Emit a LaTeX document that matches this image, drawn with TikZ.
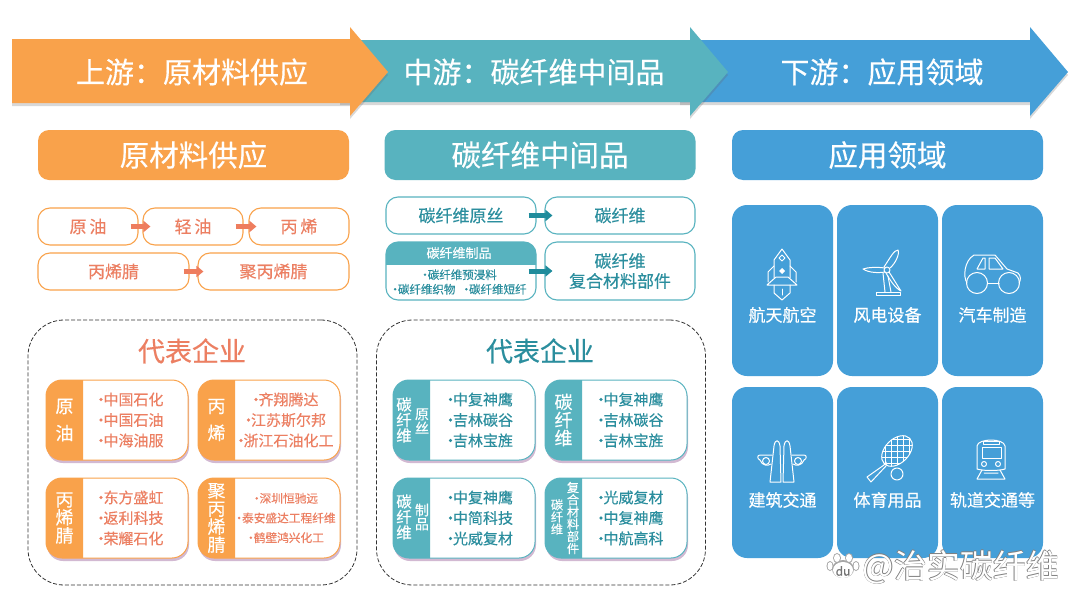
\documentclass[tikz,border=0pt]{standalone}
\usepackage{fontspec}
\setmainfont{Noto Sans CJK SC}[FakeBold=0.35]
\newfontfamily\plainfont{Noto Sans CJK SC}
\usetikzlibrary{arrows.meta,shadows}
\definecolor{orangeband}{HTML}{F9A24B}
\definecolor{tealband}{HTML}{58B3BF}
\definecolor{blueband}{HTML}{459FD8}
\definecolor{orangetext}{HTML}{EC7F62}
\definecolor{tealtext}{HTML}{2B8E9E}
\definecolor{arrowred}{HTML}{EE7D5E}
\definecolor{arrowteal}{HTML}{1F8C9C}
\newcommand{\fsize}[1]{\fontsize{#1}{#1}\selectfont}
\newcommand{\itemdot}{·\kern-5pt}
\newcommand{\wcolon}{\char"FF1A\relax}
\newcommand{\listsize}{15}
\tikzset{
    bandarrow/.style={fill=#1, drop shadow={shadow xshift=0pt, shadow yshift=-3pt, opacity=0.25, fill=black!60}},
    bandtext/.style={text=white, font=\fsize{29}, inner sep=0pt},
    titlebox/.style={fill=#1, rounded corners=11pt, minimum width=311pt, minimum height=50pt, inner sep=0pt, text=white, font=\fsize{29.5}},
    stepbox/.style={draw=#1, line width=1.1pt, fill=white, rounded corners=12pt, minimum height=37pt, inner sep=0pt},
    flowarrow/.style={draw=#1, line width=5pt, -{Triangle[width=11pt,length=7pt]}},
    groupbox/.style={draw=black!80, dash pattern=on 4pt off 2pt, line width=0.8pt, rounded corners=36pt, minimum width=329pt, minimum height=265pt},
    grouptitle/.style={text=#1, font=\fsize{27}, inner sep=0pt},
    cardbox/.style={draw=#1, line width=1pt, fill=white, rounded corners=16pt, minimum width=142pt, minimum height=80pt, inner sep=0pt,
        drop shadow={shadow xshift=1pt, shadow yshift=-3pt, opacity=0.35, fill=violet!55!gray}},
    cardside/.style={text=white, align=center, inner sep=0pt},
    cardlist/.style={text=#1, align=center, inner sep=0pt, font=\fsize{\listsize}},
    fieldbox/.style={fill=blueband, rounded corners=15pt, minimum width=101pt, minimum height=171pt, inner sep=0pt},
    fieldtext/.style={text=white, font=\fsize{17}, inner sep=0pt},
    icon/.style={draw=white, line width=1pt, line join=round, line cap=round},
}
\newcommand{\companycard}[8]{%
    \node[cardbox=#4] (card#1) at (#2+71,#3+40) {};
    \begin{scope}
        \clip (#2,#3) rectangle (#2+37,#3+80);
        \fill[#4, rounded corners=16pt] (#2,#3) rectangle (#2+80,#3+80);
    \end{scope}
    \node[cardside, font=\fsize{18}] (side#1) at (#2+18.5,#3+40) {#6};
    \node[cardlist=#5] (list#1) at (#8,#3+40) {#7};
}
\begin{document}
\begin{tikzpicture}[x=1pt,y=-1pt]
    \useasboundingbox (0,0) rectangle (1080,608);
    \fill[white] (0,0) rectangle (1080,608);

    \path[bandarrow=blueband] (680,40) -- (1030,40) -- (1030,27) -- (1068,72) -- (1030,116) -- (1030,102) -- (680,102) -- cycle;
    \path[bandarrow=tealband] (340,40) -- (690,40) -- (690,27) -- (728,72) -- (690,116) -- (690,102) -- (340,102) -- cycle;
    \path[bandarrow=orangeband] (12,39) -- (350,39) -- (350,27) -- (388,72) -- (350,116) -- (350,103) -- (12,103) -- cycle;
    \node[bandtext] (bandup) at (192,72) {上游\wcolon 原材料供应};
    \node[bandtext] (bandmid) at (534,72) {中游\wcolon 碳纤维中间品};
    \node[bandtext] (banddown) at (882,72) {下游\wcolon 应用领域};

    \node[titlebox=orangeband] (titleup) at (193.5,155) {原材料供应};
    \node[titlebox=tealband] (titlemid) at (540,155) {碳纤维中间品};
    \node[titlebox=blueband] (titledown) at (887.5,155) {应用领域};

    \begin{scope}[every node/.append style={text=orangetext, font=\fsize{17}}]
        \node[stepbox=orangeband, minimum width=100pt] (crude) at (88,226.5) {原\,油};
        \node[stepbox=orangeband, minimum width=100pt] (naphtha) at (193,226.5) {轻\,油};
        \node[stepbox=orangeband, minimum width=100pt] (propene) at (299,226.5) {丙\,烯};
        \node[stepbox=orangeband, minimum width=151pt] (acrylo) at (113.5,271.5) {丙烯腈};
        \node[stepbox=orangeband, minimum width=151pt] (polyacrylo) at (273.5,271.5) {聚丙烯腈};
    \end{scope}
    \draw[flowarrow=arrowred, shorten <=-8pt, shorten >=-8pt] (crude) -- (naphtha);
    \draw[flowarrow=arrowred, shorten <=-8pt, shorten >=-8pt] (naphtha) -- (propene);
    \draw[flowarrow=arrowred, shorten <=-6pt, shorten >=-6pt] (acrylo) -- (polyacrylo);

    \begin{scope}[every node/.append style={text=tealtext, font=\fsize{17}, align=center}]
        \node[stepbox=tealband, minimum width=150pt] (precursor) at (461,215.5) {碳纤维原丝};
        \node[stepbox=tealband, minimum width=150pt] (fiber) at (620,215.5) {碳纤维};
        \node[stepbox=tealband, minimum width=150pt, minimum height=58pt] (composite) at (620,271) {碳纤维\\[3pt]复合材料部件};
        \node[stepbox=tealband, minimum width=150pt, minimum height=58pt] (products) at (461,271) {};
    \end{scope}
    \begin{scope}
        \clip (386,242) rectangle (536,264);
        \fill[tealband, rounded corners=12pt] (386,242) rectangle (536,300);
    \end{scope}
    \node[text=white, font=\fsize{13}, inner sep=0pt] (productshead) at (459,253) {碳纤维制品};
    \node[text=tealtext, font=\fsize{11.5}, align=center, inner sep=0pt] (productslist) at (458,282) {·\kern-3pt碳纤维预浸料\\[3pt]·\kern-3pt碳纤维织物\ \ ·\kern-3pt碳纤维短纤};
    \draw[flowarrow=arrowteal, shorten <=-8pt, shorten >=-8pt] (precursor) -- (fiber);
    \draw[flowarrow=arrowteal, shorten <=-8pt, shorten >=-8pt] (products) -- (composite);

    \node[groupbox] (groupup) at (192.5,452.5) {};
    \node[groupbox] (groupmid) at (541,452.5) {};
    \node[grouptitle=orangetext] (companiesup) at (192,351) {代表企业};
    \node[grouptitle=tealtext] (companiesmid) at (540,351) {代表企业};

    \companycard{a}{46}{380}{orangeband}{orangetext}{原\\[9pt]油}{\itemdot 中国石化\\[5.5pt]\itemdot 中国石油\\[5.5pt]\itemdot 中海油服}{128.5}
    \companycard{b}{198}{380}{orangeband}{orangetext}{丙\\[9pt]烯}{\itemdot 齐翔腾达\\[5.5pt]\itemdot 江苏斯尔邦\\[5.5pt]\itemdot 浙江石油化工}{283.5}
    \companycard{c}{46}{478}{orangeband}{orangetext}{丙\\烯\\腈}{\itemdot 东方盛虹\\[5.5pt]\itemdot 返利科技\\[5.5pt]\itemdot 荣耀石化}{128.5}
    \renewcommand{\listsize}{11.7}
    \companycard{d}{198}{478}{orangeband}{orangetext}{聚\\丙\\烯\\腈}{·\kern-3pt深圳恒驰远\\[8pt]·\kern-3pt泰安盛达工程纤维\\[8pt]·\kern-3pt鹤壁鸿兴化工}{284.5}
    \renewcommand{\listsize}{15}

    \companycard{e}{393}{380}{tealband}{tealtext}{}{\itemdot 中复神鹰\\[5.5pt]\itemdot 吉林碳谷\\[5.5pt]\itemdot 吉林宝旌}{478}
    \companycard{f}{545}{380}{tealband}{tealtext}{}{\itemdot 中复神鹰\\[5.5pt]\itemdot 吉林碳谷\\[5.5pt]\itemdot 吉林宝旌}{628.5}
    \companycard{g}{393}{478}{tealband}{tealtext}{}{\itemdot 中复神鹰\\[5.5pt]\itemdot 中简科技\\[5.5pt]\itemdot 光威复材}{478}
    \companycard{h}{545}{478}{tealband}{tealtext}{}{\itemdot 光威复材\\[5.5pt]\itemdot 中复神鹰\\[5.5pt]\itemdot 中航高科}{628.5}
    \node[cardside, font=\fsize{15.5}] (sidee1) at (404,420) {碳\\纤\\维};
    \node[cardside, font=\fsize{14}] (sidee2) at (422,421) {原\\丝};
    \node[cardside, font=\fsize{18}] (sidef1) at (563.5,420) {碳\\纤\\维};
    \node[cardside, font=\fsize{15.5}] (sideg1) at (404,517) {碳\\纤\\维};
    \node[cardside, font=\fsize{14}] (sideg2) at (422,517) {制\\品};
    \node[cardside, font=\fsize{12.2}] (sideh1) at (557,517) {碳\\纤\\维};
    \node[cardside, font=\fsize{12.2}] (sideh2) at (573,518) {复\\合\\材\\料\\部\\件};

    \foreach \fname/\px/\py/\ly/\ftext in {space/732/205/315/航天航空, wind/837/205/315/风电设备, car/942/205/315/汽车制造,
        build/732/387/500/建筑交通, sport/837/387/500/体育用品, rail/942/387/500/轨道交通等} {
        \node[fieldbox] (\fname) at (\px+50.5,\py+85.5) {};
        \node[fieldtext] (\fname text) at (\px+50.5,\ly) {\ftext};
    }

    \begin{scope}[icon, shift={(782,270)}]
        \draw (0,-21) -- (-8,-10) -- (-8,8) (0,-21) -- (8,-10) -- (8,8);
        \draw (-8,-4) -- (-14,2) -- (-14,12) (8,-4) -- (14,2) -- (14,12);
        \draw (-6,7) -- (6,7) -- (15,15) -- (-15,15) -- cycle;
        \draw (-8,15) -- (-8,23) -- (0,30) -- (8,23) -- (8,15);
        \draw (0,19) -- (0,25);
        \draw (0,-15) -- (3,-12) -- (0,-9) -- (-3,-12) -- cycle;
        \fill[white] (0,-2) -- (3,1) -- (0,4) -- (-3,1) -- cycle;
    \end{scope}
    \begin{scope}[icon, shift={(887,270)}]
        \draw (-3,-3) .. controls (3,-12) and (7,-20) .. (11,-20) .. controls (13,-16) and (8,-6) .. (3,-2);
        \draw (-2,-2) .. controls (-10,-3) and (-18,-3) .. (-24,-1) .. controls (-18,3) and (-8,3) .. (-2,2);
        \draw (2,2) .. controls (6,8) and (10,15) .. (14,21) .. controls (8,18) and (3,10) .. (-1,3);
        \draw (0,0) circle (3);
        \draw (-4,3) -- (-2,22) (1,6) -- (4,22);
        \draw (-11,25) rectangle (13,22);
    \end{scope}
    \begin{scope}[icon, shift={(992,273)}]
        \draw (-25,10) .. controls (-29,4) and (-28,-12) .. (-18,-18) -- (3,-18) -- (15,-4) -- (26,0) .. controls (29,3) and (29,7) .. (27,10);
        \draw (-4,10) -- (7,10);
        \draw (-15,-4) -- (-9,-15) -- (-7,-15) -- (-7,-4) -- cycle;
        \draw (-3,-15) -- (3,-15) -- (11,-4) -- (-3,-4) -- cycle;
        \draw (-15,10) circle (10.5);
        \draw (17,10) circle (10.5);
    \end{scope}
    \begin{scope}[icon, shift={(782,460)}]
        \draw (-12,22) -- (-8,-14) .. controls (-7,-21) and (-3,-21) .. (-2,-14) -- (-1,22) -- cycle;
        \draw (12,22) -- (8,-14) .. controls (7,-21) and (3,-21) .. (2,-14) -- (1,22) -- cycle;
        \draw (-10,-5) -- (-22,-5) .. controls (-25,-5) and (-25,-1) .. (-22,0) .. controls (-20,6) and (-14,6) .. (-11,4);
        \draw (10,-5) -- (22,-5) .. controls (25,-5) and (25,-1) .. (22,0) .. controls (20,6) and (14,6) .. (11,4);
        \draw (-16,1) circle (3.5) (16,1) circle (3.5);
    \end{scope}
    \begin{scope}[icon, shift={(897,451)}]
        \begin{scope}
            \clip[rotate=45] (0,0) ellipse (18 and 12);
            \foreach \k in {-24,-18,...,24} {
                \draw[line width=0.5pt] (\k,-25) -- (\k,25) (-25,\k) -- (25,\k);
            }
        \end{scope}
        \draw[rotate=45] (0,0) ellipse (18 and 12);
        \draw (-11,11) -- (-13,14) -- (-30,26) -- (-26,31) -- (-11,15) -- (-11,11);
        \draw (0,23) circle (6);
    \end{scope}
    \begin{scope}[icon, shift={(991,458)}]
        \draw (-14,11) -- (-14,-12) .. controls (-13,-20) and (13,-20) .. (14,-12) -- (14,11) .. controls (8,13) and (-8,13) .. (-14,11) -- cycle;
        \draw (-8,-17) rectangle (8,-14);
        \draw (-9,-11) rectangle (10,0);
        \draw (-7,6) circle (2.5) (7,6) circle (2.5);
        \draw (-9,12) -- (-14,21) -- (14,21) -- (9,12) (-7,15) -- (7,15);
    \end{scope}

    \begin{scope}[shift={(843,567)}]
        \fill[black!35] (0,2) ellipse (11 and 9);
        \fill[black!35] (-13,-1) ellipse (3.5 and 5) (-6,-9) ellipse (4 and 5) (6,-9) ellipse (4 and 5) (13,-1) ellipse (3.5 and 5);
        \fill[white] (0,3) ellipse (10 and 8);
        \fill[white] (-13,-1) ellipse (2.5 and 4) (-6,-9) ellipse (3 and 4) (6,-9) ellipse (3 and 4) (13,-1) ellipse (2.5 and 4);
    \end{scope}
    \node[text=black!55, font=\fsize{12}, inner sep=0pt] (pawtext) at (843,571) {du};
    \foreach \dx/\dy in {-0.7/0, 0.7/0, 0/-0.7, 0/0.7} {
        \node[text=black!50, font=\plainfont\fsize{33}, inner sep=0pt] at (961+\dx,567+\dy) {@治实碳纤维};
    }
    \node[text=white, font=\plainfont\fsize{33}, inner sep=0pt] (watermark) at (961,567) {@治实碳纤维};
\end{tikzpicture}
\end{document}
